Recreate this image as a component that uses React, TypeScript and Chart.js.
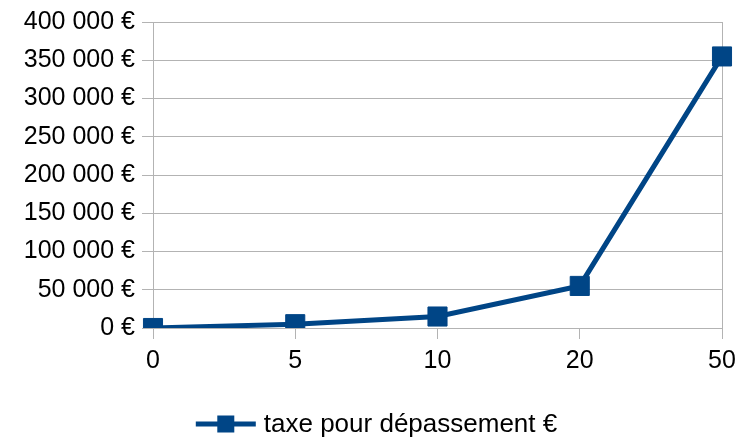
import React, { useEffect, useRef } from "react";
import { Chart, registerables } from "chart.js";

Chart.register(...registerables);

const categories = ["0", "5", "10", "20", "50"];
const taxValues = [0, 5000, 15000, 55000, 355000];
const seriesLabel = "taxe pour dépassement €";
const yMin = 0;
const yMax = 400000;
const yStep = 50000;

const BLUE = "#004586";
const GRID = "#b3b3b3";
const FONT = "'Liberation Sans', Arial, sans-serif";

function formatEuro(v: number): string {
  return String(Math.round(v)).replace(/\B(?=(\d{3})+(?!\d))/g, " ") + " €";
}

const bottomLegend = {
  id: "bottomLegend",
  afterDraw(chart: any) {
    const ctx = chart.ctx as CanvasRenderingContext2D;
    const ds = chart.data.datasets[0];
    const color = ds.borderColor as string;
    ctx.save();
    ctx.font = `26px ${FONT}`;
    const textW = ctx.measureText(ds.label).width;
    const lineW = 60;
    const gap = 8;
    const total = lineW + gap + textW;
    const x0 = chart.width / 2 - total / 2;
    const cy = 424;
    ctx.fillStyle = color;
    ctx.fillRect(x0, cy - 2.5, lineW, 5);
    ctx.fillRect(x0 + lineW / 2 - 8.5, cy - 8.5, 17, 17);
    ctx.fillStyle = "#000";
    ctx.textBaseline = "middle";
    ctx.textAlign = "left";
    ctx.fillText(ds.label, x0 + lineW + gap, cy + 1);
    ctx.restore();
  },
};

export default function App() {
  const ref = useRef<HTMLCanvasElement | null>(null);

  useEffect(() => {
    if (!ref.current) return;
    const chart = new Chart(ref.current, {
      type: "line",
      data: {
        labels: categories,
        datasets: [
          {
            label: seriesLabel,
            data: taxValues,
            borderColor: BLUE,
            backgroundColor: BLUE,
            borderWidth: 5,
            pointStyle: "rect",
            pointRadius: 13.5,
            pointBorderWidth: 1,
            pointBorderColor: BLUE,
            pointBackgroundColor: BLUE,
            tension: 0,
          },
        ],
      },
      plugins: [bottomLegend],
      options: {
        animation: false,
        responsive: false,
        maintainAspectRatio: false,
        layout: { padding: { left: 0, right: 31, top: 19, bottom: 61 } },
        font: { family: FONT },
        plugins: {
          tooltip: { enabled: false },
          legend: { display: false },
        },
        scales: {
          x: {
            type: "category",
            offset: false,
            grid: {
              color: (ctx: any) =>
                ctx.index === 0 || ctx.index === categories.length - 1 ? GRID : "rgba(0,0,0,0)",
              tickColor: GRID,
              tickLength: 11,
              lineWidth: 1,
            },
            border: { display: true, color: GRID },
            ticks: {
              color: "#000",
              padding: 7,
              maxRotation: 0,
              font: { family: FONT, size: 25 },
            },
            afterFit: (scale: any) => {
              scale.height = 48;
            },
          },
          y: {
            min: yMin,
            max: yMax,
            grid: { color: GRID, tickColor: GRID, tickLength: 11, lineWidth: 1 },
            border: { display: true, color: GRID },
            ticks: {
              stepSize: yStep,
              color: "#000",
              padding: 7,
              font: { family: FONT, size: 25 },
              callback: (v: any) => formatEuro(Number(v)),
            },
            afterFit: (scale: any) => {
              scale.width = 153;
            },
          },
        },
      },
    });
    return () => chart.destroy();
  }, []);

  return (
    <div style={{ position: "fixed", left: 0, top: 0, width: 753, height: 437, background: "#fff" }}>
      <canvas ref={ref} width={753} height={437} style={{ width: 753, height: 437 }} />
    </div>
  );
}
